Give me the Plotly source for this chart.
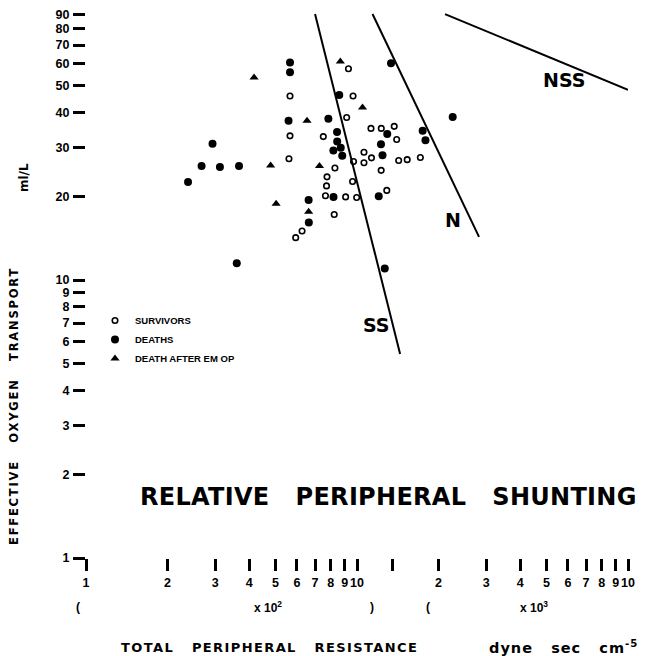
import math
import plotly.graph_objects as go

# ---------------- data ----------------
# Total peripheral resistance, dyne sec cm^-5
surv_tpr = [566, 566, 561, 627, 594, 930, 967, 916, 751, 1126, 1229, 1372, 1401, 1061, 1131,
            1061, 971, 1425, 1532, 1713, 829, 1228, 775, 963, 772, 1288, 765, 908, 997, 824]
# Effective oxygen transport, ml/L
surv_o2 = [45.9, 33.0, 27.3, 15.0, 14.2, 57.5, 45.9, 38.4, 32.8, 35.1, 35.1, 35.7, 32.0, 28.8, 27.5,
           26.4, 26.7, 26.9, 27.1, 27.6, 25.3, 24.8, 23.5, 22.6, 21.8, 21.0, 20.1, 19.9, 19.8, 17.2]

death_tpr = [566, 566, 559, 293, 267, 312, 367, 238, 663, 664, 360, 1335, 860, 784, 844, 845,
             871, 818, 882, 1293, 1226, 1242, 1747, 1789, 2255, 819, 1203, 1266]
death_o2 = [60.6, 55.9, 37.4, 30.9, 25.7, 25.5, 25.7, 22.5, 19.4, 16.1, 11.5, 60.2, 46.3, 38.0, 34.1, 31.5,
            29.9, 29.2, 28.0, 33.5, 30.8, 28.1, 34.4, 31.8, 38.6, 19.9, 20.0, 11.0]

emop_tpr = [417, 654, 480, 503, 663, 868, 1048, 727]
emop_o2 = [53.5, 37.4, 25.8, 18.8, 17.6, 61.1, 41.7, 25.7]

# reference lines
ss_tpr = [700, 1442]
ss_o2 = [90.5, 5.42]
n_tpr = [1141, 2820]
n_o2 = [90.5, 14.3]
nss_tpr = [2112, 10000]
nss_o2 = [90.5, 48.3]

line_names = ["SS", "N", "NSS"]
line_label_tpr = [1185, 2261, 5805]
line_label_o2 = [6.89, 16.4, 52.4]

# tick labels
x_tickvals = [100, 200, 300, 400, 500, 600, 700, 800, 900, 1000, 1350,
              2000, 3000, 4000, 5000, 6000, 7000, 8000, 9000, 10000]
x_ticktext = ["1", "2", "3", "4", "5", "6", "7", "8", "9", "10", "",
              "2", "3", "4", "5", "6", "7", "8", "9", "10"]
y_tickvals = [1, 2, 3, 4, 5, 6, 7, 8, 9, 10, 20, 30, 40, 50, 60, 70, 80, 90]
y_ticktext = [str(v) for v in y_tickvals]

# ---------------- styling ----------------
# the page body adds an 8px offset, so the figure is 8px smaller than the window
OFF = 8
W, H = 646 - OFF, 656 - OFF
L, R, T = 86 - OFF, 18, 0
PB = 558  # page y of the x axis (value 1)
PH = PB - OFF - T
B = H - T - PH
PW = W - L - R
YTOP = PH / 278.0  # log-decade height of 278 px

COND = "Liberation Sans Narrow, Liberation Sans, Arial, sans-serif"
WIDE = "DejaVu Sans, Verdana, sans-serif"


def px(xp):
    return (xp - 86) / PW


def py(yp):
    return (PB - yp) / PH


def spaced(txt, ls):
    return '<span style="letter-spacing:%spx">%s</span>' % (ls, txt)


fig = go.Figure()

fig.add_trace(go.Scatter(x=surv_tpr, y=surv_o2, mode="markers", name="SURVIVORS",
                         marker=dict(symbol="circle-open", size=5.5, color="black",
                                     line=dict(width=1.6, color="black"))))
fig.add_trace(go.Scatter(x=death_tpr, y=death_o2, mode="markers", name="DEATHS",
                         marker=dict(symbol="circle", size=8, color="black")))
fig.add_trace(go.Scatter(x=emop_tpr, y=emop_o2, mode="markers", name="DEATH AFTER EM OP",
                         marker=dict(symbol="triangle-up", size=8, color="black")))

for xs, ys in [(ss_tpr, ss_o2), (n_tpr, n_o2), (nss_tpr, nss_o2)]:
    fig.add_trace(go.Scatter(x=xs, y=ys, mode="lines", showlegend=False,
                             line=dict(color="black", width=2), hoverinfo="skip"))

annotations = []
for name, lx, ly in zip(line_names, line_label_tpr, line_label_o2):
    annotations.append(dict(x=math.log10(lx), y=math.log10(ly), xref="x", yref="y", text=name,
                            showarrow=False, font=dict(family=WIDE, size=19, color="black", weight="bold")))

annotations += [
    dict(x=px(138), y=py(497), xref="paper", yref="paper", xanchor="left", yanchor="middle",
         text=spaced("RELATIVE   PERIPHERAL   SHUNTING", 0.3), showarrow=False,
         font=dict(family=WIDE, size=24, color="black", weight="bold")),
    dict(x=px(14), y=py(406), xref="paper", yref="paper", xanchor="center", yanchor="middle",
         text=spaced("EFFECTIVE   OXYGEN   TRANSPORT", 1.8), textangle=-90, showarrow=False,
         font=dict(family=WIDE, size=11.5, color="black", weight="bold")),
    dict(x=px(24), y=py(178), xref="paper", yref="paper", xanchor="center", yanchor="middle",
         text="ml/L", textangle=-90, showarrow=False,
         font=dict(family=WIDE, size=12, color="black", weight="bold")),
    dict(x=px(119), y=py(647), xref="paper", yref="paper", xanchor="left", yanchor="middle",
         text=spaced("TOTAL   PERIPHERAL   RESISTANCE", 1.4), showarrow=False,
         font=dict(family=WIDE, size=13, color="black", weight="bold")),
    dict(x=px(640), y=py(647), xref="paper", yref="paper", xanchor="right", yanchor="middle",
         text=spaced("dyne   sec   cm<sup>-5</sup>", 1.0), showarrow=False,
         font=dict(family=WIDE, size=14.5, color="black", weight="bold")),
]
for txt, xp in [("(", 78), ("x 10<sup>2</sup>", 268), (")", 372),
                ("(", 428), ("x 10<sup>3</sup>", 534), (")", 642)]:
    annotations.append(dict(x=px(xp), y=py(607), xref="paper", yref="paper", xanchor="center",
                            yanchor="middle", text=txt, showarrow=False,
                            font=dict(family=COND, size=12, color="black", weight="bold")))

fig.update_layout(
    width=W, height=H,
    margin=dict(l=L, r=R, t=T, b=B, pad=0),
    paper_bgcolor="white", plot_bgcolor="white",
    showlegend=True,
    legend=dict(x=px(95), y=py(306), xanchor="left", yanchor="top",
                font=dict(family=COND, size=9.5, color="black", weight="bold"),
                bgcolor="rgba(0,0,0,0)", borderwidth=0, tracegroupgap=0, itemsizing="trace"),
    annotations=annotations,
    xaxis=dict(type="log", range=[2, 4], showgrid=False, zeroline=False, showline=False,
               tickmode="array", tickvals=x_tickvals, ticktext=x_ticktext, tickangle=0,
               ticks="outside", ticklen=12, tickwidth=2.5, tickcolor="black",
               ticklabelstandoff=1,
               tickfont=dict(family=COND, size=12.5, color="black", weight="bold")),
    yaxis=dict(type="log", range=[0, YTOP], showgrid=False, zeroline=False, showline=False,
               tickmode="array", tickvals=y_tickvals, ticktext=y_ticktext,
               ticks="outside", ticklen=12, tickwidth=2.5, tickcolor="black",
               ticklabelstandoff=1,
               tickfont=dict(family=COND, size=12.5, color="black", weight="bold")),
)

fig.write_html("out.html")
